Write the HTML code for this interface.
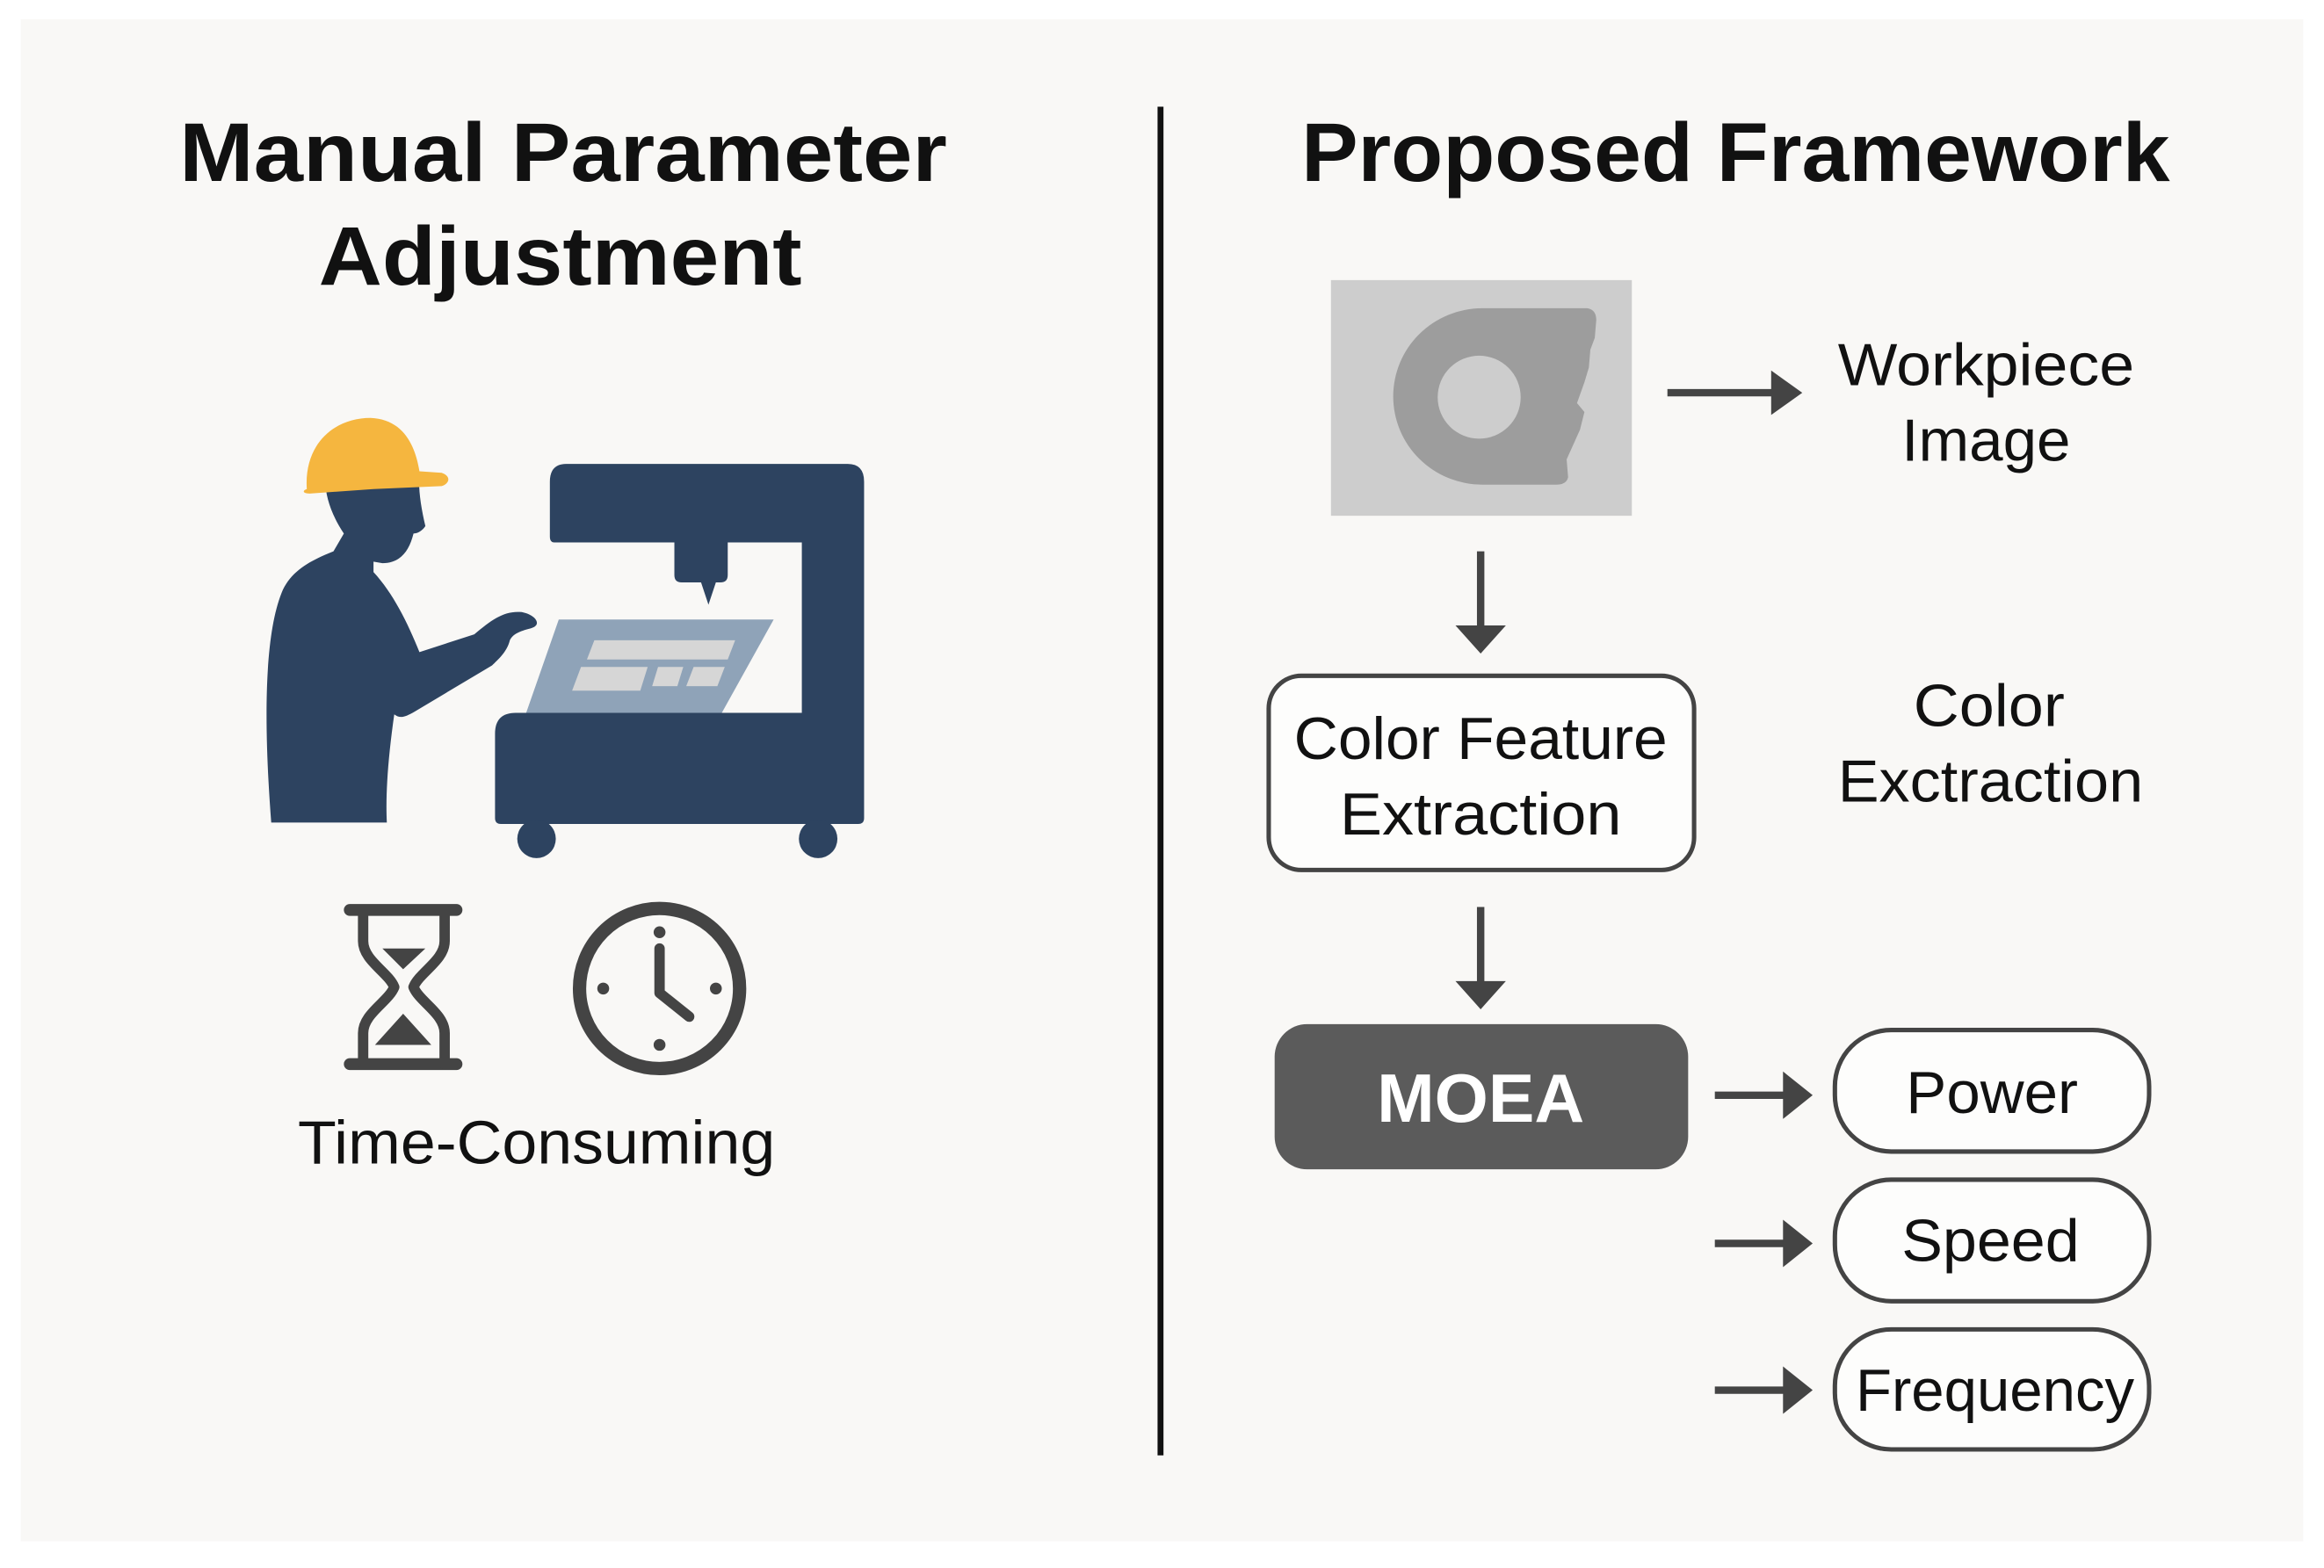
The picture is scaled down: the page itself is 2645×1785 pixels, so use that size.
<!DOCTYPE html>
<html><head><meta charset="utf-8"><style>
html,body{margin:0;padding:0;background:#fff;}
svg{display:block;}
text{font-family:"Liberation Sans",sans-serif;}
</style></head><body>
<svg width="2645" height="1785" viewBox="0 0 1568 1058" preserveAspectRatio="none" xmlns="http://www.w3.org/2000/svg">
<rect x="0" y="0" width="1568" height="1058" fill="#ffffff"/>
<rect x="14" y="13" width="1540" height="1027" fill="#f9f8f6"/>

<text x="380" y="122" font-size="56" font-weight="bold" text-anchor="middle" fill="#111" textLength="518" lengthAdjust="spacingAndGlyphs">Manual Parameter</text>
<text x="378" y="192" font-size="56" font-weight="bold" text-anchor="middle" fill="#111" textLength="326" lengthAdjust="spacingAndGlyphs">Adjustment</text>
<text x="1171" y="122" font-size="56" font-weight="bold" text-anchor="middle" fill="#111" textLength="586" lengthAdjust="spacingAndGlyphs">Proposed Framework</text>

<rect x="781" y="72" width="4" height="910" fill="#111"/>

<g fill="#2d4360">
<path d="M183,555 C178,490 178,430 190,400 C196,385 210,378 225,372 L232,360 C222,345 218,330 220,318 L283,318 C282,330 284,342 287,355 C285,358 282,360 279,360 C276,372 270,380 258,380 L252,379 L252,386 C265,400 275,420 283,440 L320,428 C332,418 340,412 352,413 C362,415 366,422 358,424 C350,426 346,428 344,432 C342,440 336,445 332,449 L280,480 C273,484 270,485 266,482 C262,510 260,535 261,555 Z"/>
<path d="M382,313 L572,313 Q583,313 583,325 L583,552 Q583,556 579,556 L338,556 Q334,556 334,552 L334,495 Q334,481 348,481 L541,481 L541,366 L491,366 L491,388 Q491,393 486,393 L483,393 L478,408 L473,393 L460,393 Q455,393 455,388 L455,366 L374,366 Q371,366 371,362 L371,325 Q371,313 382,313 Z"/>
<ellipse cx="362" cy="566" rx="13" ry="13"/>
<ellipse cx="552" cy="566" rx="13" ry="13"/>
</g>
<path d="M207,330 C205,300 225,282 250,282 C272,283 280,300 283,318 L298,319 C304,321 304,326 298,328 L252,330 L209,333 C204,333 204,331 207,330 Z" fill="#f5b63f"/>
<polygon points="377,418 522,418 487,481 355,481" fill="#8fa3b8"/>
<g fill="#d6d6d6">
<polygon points="401,432 496,432 491,445 396,445"/>
<polygon points="392,450 437,450 432,466 386,466"/>
<polygon points="444,450 461,450 457,463 440,463"/>
<polygon points="468,450 489,450 484,463 463,463"/>
</g>

<g stroke="#444" fill="none" stroke-linecap="round" stroke-linejoin="round">
<line x1="236" y1="614" x2="308" y2="614" stroke-width="8"/>
<line x1="236" y1="718" x2="308" y2="718" stroke-width="8"/>
<path d="M245,614 L245,635 C245,648 262,656 266,666 C262,676 245,684 245,697 L245,718" stroke-width="7"/>
<path d="M300,614 L300,635 C300,648 283,656 279,666 C283,676 300,684 300,697 L300,718" stroke-width="7"/>
</g>
<path d="M258,640 L287,640 L272,654 Z" fill="#444"/>
<path d="M272,684 L291,705 L253,705 Z" fill="#444"/>

<circle cx="445" cy="667" r="54" fill="none" stroke="#444" stroke-width="9"/>
<g fill="#444"><circle cx="445" cy="629" r="4"/><circle cx="445" cy="705" r="4"/><circle cx="407" cy="667" r="4"/><circle cx="483" cy="667" r="4"/></g>
<path d="M445,640 L445,670 L465,686" fill="none" stroke="#444" stroke-width="7" stroke-linecap="round" stroke-linejoin="round"/>

<text x="362" y="785" font-size="41" text-anchor="middle" fill="#111" textLength="322" lengthAdjust="spacingAndGlyphs">Time-Consuming</text>

<rect x="898" y="189" width="203" height="159" fill="#cdcdcd"/>
<path d="M1000,208 L1071,208 Q1077,209 1077,216 L1076,228 L1073,236 L1072,248 L1069,258 L1064,272 L1069,278 L1066,290 L1057,310 L1058,322 Q1057,327 1050,327 L1000,327 A60,59.5 0 0 1 1000,208 Z" fill="#9d9d9d"/>
<circle cx="998" cy="268" r="28" fill="#cdcdcd"/>

<g stroke="#444" stroke-width="5" fill="#444">
<line x1="1125" y1="265" x2="1198" y2="265"/>
<line x1="999" y1="372" x2="999" y2="424"/>
<line x1="999" y1="612" x2="999" y2="664"/>
<line x1="1157" y1="739" x2="1206" y2="739"/>
<line x1="1157" y1="839" x2="1206" y2="839"/>
<line x1="1157" y1="938" x2="1206" y2="938"/>
</g>
<g fill="#444">
<polygon points="1195,250 1216,265 1195,280"/>
<polygon points="982,422 1016,422 999,441"/>
<polygon points="982,662 1016,662 999,681"/>
<polygon points="1203,723 1223,739 1203,755"/>
<polygon points="1203,823 1223,839 1203,855"/>
<polygon points="1203,922 1223,938 1203,954"/>
</g>

<text x="1340" y="260" font-size="40" text-anchor="middle" fill="#111" textLength="200" lengthAdjust="spacingAndGlyphs">Workpiece</text>
<text x="1340" y="311" font-size="40" text-anchor="middle" fill="#111" textLength="114" lengthAdjust="spacingAndGlyphs">Image</text>

<rect x="856" y="456" width="287" height="131" rx="22" fill="#fdfdfc" stroke="#444" stroke-width="3"/>
<text x="999" y="512" font-size="40" text-anchor="middle" fill="#111" textLength="252" lengthAdjust="spacingAndGlyphs">Color Feature</text>
<text x="999" y="563" font-size="40" text-anchor="middle" fill="#111" textLength="190" lengthAdjust="spacingAndGlyphs">Extraction</text>

<text x="1342" y="490" font-size="40" text-anchor="middle" fill="#111" textLength="102" lengthAdjust="spacingAndGlyphs">Color</text>
<text x="1343" y="541" font-size="40" text-anchor="middle" fill="#111" textLength="206" lengthAdjust="spacingAndGlyphs">Exctraction</text>

<rect x="860" y="691" width="279" height="98" rx="22" fill="#5b5b5b"/>
<text x="999" y="757" font-size="46" font-weight="bold" text-anchor="middle" fill="#fff" textLength="140" lengthAdjust="spacingAndGlyphs">MOEA</text>

<g fill="#fdfdfc" stroke="#444" stroke-width="3">
<rect x="1238" y="695" width="212" height="82" rx="38"/>
<rect x="1238" y="796" width="212" height="82" rx="38"/>
<rect x="1238" y="897" width="212" height="81" rx="38"/>
</g>
<text x="1344" y="751" font-size="40" text-anchor="middle" fill="#111" textLength="116" lengthAdjust="spacingAndGlyphs">Power</text>
<text x="1343" y="851" font-size="40" text-anchor="middle" fill="#111" textLength="120" lengthAdjust="spacingAndGlyphs">Speed</text>
<text x="1346" y="952" font-size="40" text-anchor="middle" fill="#111" textLength="188" lengthAdjust="spacingAndGlyphs">Frequency</text>
</svg>
</body></html>
